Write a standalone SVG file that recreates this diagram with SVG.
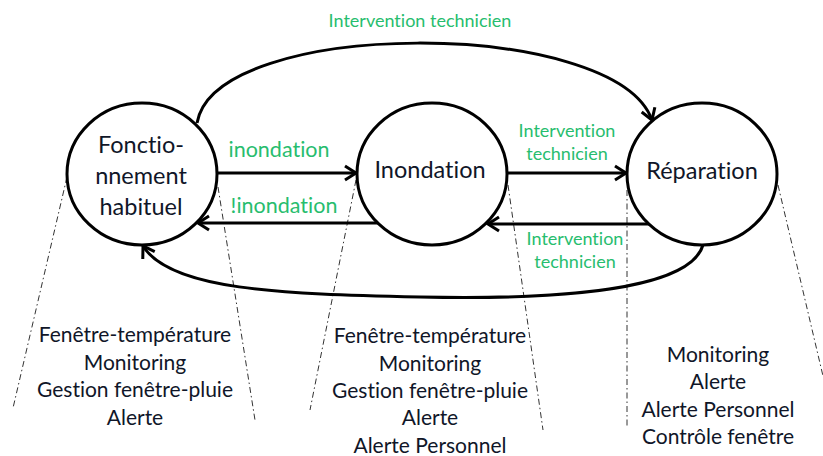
<svg xmlns="http://www.w3.org/2000/svg" width="823" height="456" viewBox="0 0 823 456">
<defs>
<style>
text{font-variant-ligatures:none;font-feature-settings:"liga" 0}
.node{fill:#fff;stroke:#000;stroke-width:3}
.edge{fill:none;stroke:#000;stroke-width:3}
.guide{fill:none;stroke:#333;stroke-width:1;stroke-dasharray:6 3 1.5 3}
.nt{font-family:Lato,"Open Sans","Liberation Sans",sans-serif;font-size:23.5px;fill:#101628;text-anchor:middle}
.lb{font-family:Lato,"Open Sans","Liberation Sans",sans-serif;fill:#27bd6e;text-anchor:middle}
.bt{font-family:Lato,"Open Sans","Liberation Sans",sans-serif;font-size:21px;fill:#101628;text-anchor:middle}
</style>
<marker id="arr" markerUnits="userSpaceOnUse" markerWidth="16" markerHeight="18" refX="13" refY="9" orient="auto">
<path d="M2,2 L13,9 L2,16" fill="none" stroke="#000" stroke-width="3"/>
</marker>
</defs>
<rect width="823" height="456" fill="#fff"/>
<g id="guides">
<line class="guide" x1="67" y1="177" x2="13" y2="408"/>
<line class="guide" x1="218" y1="187" x2="255" y2="420"/>
<line class="guide" x1="356" y1="180" x2="310" y2="410"/>
<line class="guide" x1="508" y1="185" x2="543" y2="430"/>
<line class="guide" x1="627" y1="190" x2="627" y2="428"/>
<line class="guide" x1="778" y1="185" x2="823" y2="376"/>
</g>
<g id="connectors">
<path class="edge" d="M197,123 C215,17 615,17 652,120" marker-end="url(#arr)"/>
<path class="edge" d="M703,245 C690,290 560,300 420,297 C280,294 170,290 143,246" marker-end="url(#arr)"/>
<line class="edge" x1="217" y1="173" x2="356" y2="173" marker-end="url(#arr)"/>
<line class="edge" x1="380" y1="223" x2="198" y2="223" marker-end="url(#arr)"/>
<line class="edge" x1="507" y1="173" x2="626" y2="173" marker-end="url(#arr)"/>
<line class="edge" x1="652" y1="224" x2="488" y2="224" marker-end="url(#arr)"/>
</g>
<g id="node-fonctionnement">
<ellipse class="node" cx="142" cy="174" rx="75" ry="71"/>
<text class="nt" x="141" y="153">Fonctio-</text>
<text class="nt" x="141" y="184">nnement</text>
<text class="nt" x="141" y="215">habituel</text>
</g>
<g id="node-inondation">
<ellipse class="node" cx="432" cy="174" rx="75" ry="71"/>
<text class="nt" x="430" y="178">Inondation</text>
</g>
<g id="node-reparation">
<ellipse class="node" cx="702" cy="174" rx="75" ry="71"/>
<text class="nt" x="702" y="179">Réparation</text>
</g>
<g id="edge-labels">
<text class="lb" x="420" y="27" font-size="18">Intervention technicien</text>
<text class="lb" x="279" y="157" font-size="21.5">inondation</text>
<text class="lb" x="284" y="213" font-size="21.5">!inondation</text>
<text class="lb" x="567" y="137" font-size="18">Intervention</text>
<text class="lb" x="567" y="160" font-size="18">technicien</text>
<text class="lb" x="575" y="245" font-size="18">Intervention</text>
<text class="lb" x="575" y="268" font-size="18">technicien</text>
</g>
<g id="notes">
<text class="bt" x="135" y="342">Fenêtre-température</text>
<text class="bt" x="135" y="370">Monitoring</text>
<text class="bt" x="135" y="397">Gestion fenêtre-pluie</text>
<text class="bt" x="135" y="425">Alerte</text>
<text class="bt" x="430" y="343">Fenêtre-température</text>
<text class="bt" x="430" y="371">Monitoring</text>
<text class="bt" x="430" y="398">Gestion fenêtre-pluie</text>
<text class="bt" x="430" y="425">Alerte</text>
<text class="bt" x="430" y="453">Alerte Personnel</text>
<text class="bt" x="718" y="362">Monitoring</text>
<text class="bt" x="718" y="389">Alerte</text>
<text class="bt" x="718" y="417">Alerte Personnel</text>
<text class="bt" x="718" y="444">Contrôle fenêtre</text>
</g>
</svg>
